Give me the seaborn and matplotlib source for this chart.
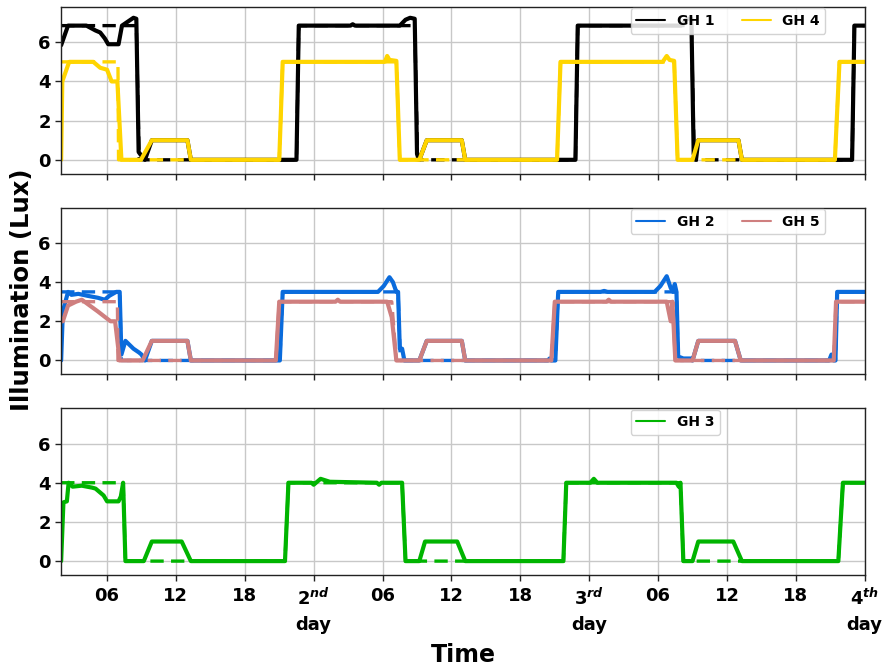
import matplotlib
matplotlib.use("Agg")
import matplotlib.pyplot as plt
from matplotlib.lines import Line2D
import seaborn as sns

# ---------------- data (hours since day-1 midnight) ----------------
gh1_t = [2.0, 2.6, 4.2, 5.0, 5.4, 5.8, 6.1, 7.0, 7.3, 8.3, 8.55, 8.75, 9.0, 9.3, 9.9, 13.0, 13.3,
         22.5, 22.7, 27.2, 27.4, 27.6, 31.5, 32.0, 32.4, 32.8, 33.0, 33.2, 33.85, 36.9, 37.2,
         46.8, 47.0, 56.0, 56.5, 56.9, 57.1, 57.3, 57.5, 61.0, 61.3,
         70.9, 71.1, 72.0]
gh1_v = [5.85, 6.85, 6.85, 6.6, 6.5, 6.2, 5.9, 5.9, 6.85, 7.25, 7.2, 0.4, 0.2, 0.0, 1.0, 1.0, 0.0,
         0.0, 6.85, 6.85, 6.92, 6.85, 6.85, 7.15, 7.25, 7.2, 0.3, 0.0, 1.0, 1.0, 0.0,
         0.0, 6.85, 6.85, 7.2, 7.2, 0.3, 0.0, 1.0, 1.0, 0.0,
         0.0, 6.85, 6.85]
ref1_t = [2.0, 8.55, 8.8, 22.5, 22.7, 32.8, 33.05, 46.8, 47.0, 56.9, 57.15, 70.9, 71.1, 72.0]
ref1_v = [6.85, 6.85, 0.0, 0.0, 6.85, 6.85, 0.0, 0.0, 6.85, 6.85, 0.0, 0.0, 6.85, 6.85]

gh4_t = [2.0, 2.1, 2.7, 4.8, 5.4, 6.0, 6.4, 6.9, 7.25, 8.95, 9.9, 13.0, 13.3,
         21.0, 21.3, 30.2, 30.4, 30.6, 31.2, 31.5, 33.2, 33.85, 36.9, 37.2,
         45.2, 45.5, 54.4, 54.75, 55.0, 55.4, 55.7, 57.0, 57.5, 61.0, 61.3,
         69.4, 69.8, 72.0]
gh4_v = [0.0, 4.0, 5.0, 5.0, 4.7, 4.6, 4.0, 4.0, 0.0, 0.0, 1.0, 1.0, 0.0,
         0.0, 5.0, 5.0, 5.3, 5.1, 5.05, 0.0, 0.0, 1.0, 1.0, 0.0,
         0.0, 5.0, 5.0, 5.3, 5.1, 5.05, 0.0, 0.0, 1.0, 1.0, 0.0,
         0.0, 5.0, 5.0]
ref4_t = [2.0, 6.95, 7.0, 21.0, 21.3, 31.2, 31.5, 45.2, 45.5, 55.4, 55.7, 69.4, 69.8, 72.0]
ref4_v = [5.0, 5.0, 0.0, 0.0, 5.0, 5.0, 0.0, 0.0, 5.0, 5.0, 0.0, 0.0, 5.0, 5.0]

gh2_t = [2.0, 2.15, 2.6, 2.9, 3.5, 4.3, 5.2, 5.8, 6.2, 6.8, 7.1, 7.25, 7.6, 8.3, 8.8, 9.0, 9.3,
         9.9, 13.0, 13.3, 21.05, 21.3, 29.6, 30.1, 30.6, 30.9, 31.2, 31.35, 31.5, 31.7, 31.9,
         33.2, 33.85, 36.9, 37.2, 44.4, 44.55, 44.7, 45.05, 45.3, 49.0, 49.3, 49.6,
         53.7, 54.2, 54.75, 55.1, 55.3, 55.45, 55.6, 55.75, 56.2, 56.9, 57.0, 57.5, 60.7, 61.2,
         68.9, 69.1, 69.3, 69.45, 69.6, 72.0]
gh2_v = [0.0, 2.5, 3.5, 3.35, 3.4, 3.3, 3.2, 3.1, 3.3, 3.5, 3.5, 0.3, 1.0, 0.6, 0.4, 0.3, 0.0,
         1.0, 1.0, 0.0, 0.0, 3.5, 3.5, 3.8, 4.25, 4.0, 3.5, 3.5, 0.6, 0.6, 0.0,
         0.0, 1.0, 1.0, 0.0, 0.0, 0.1, 0.0, 0.0, 3.5, 3.5, 3.55, 3.5,
         3.5, 3.8, 4.3, 3.7, 3.5, 3.9, 3.5, 0.2, 0.1, 0.1, 0.0, 1.0, 1.0, 0.0,
         0.0, 0.3, 0.0, 0.0, 3.5, 3.5]
ref2_t = [2.0, 7.1, 7.25, 21.05, 21.3, 31.35, 31.55, 45.05, 45.3, 55.6, 55.75, 69.45, 69.6, 72.0]
ref2_v = [3.5, 3.5, 0.0, 0.0, 3.5, 3.5, 0.0, 0.0, 3.5, 3.5, 0.0, 0.0, 3.5, 3.5]

gh5_t = [2.0, 2.15, 2.6, 3.3, 3.8, 4.5, 5.2, 6.3, 6.7, 7.1, 9.1, 9.9, 13.0, 13.3,
         20.7, 21.0, 25.9, 26.1, 26.3, 30.4, 30.8, 31.2, 33.2, 33.85, 36.9, 37.2,
         44.7, 45.0, 49.5, 49.7, 49.9, 54.75, 55.1, 55.25, 55.5, 57.0, 57.5, 60.7, 61.2,
         69.3, 69.5, 72.0]
gh5_v = [2.0, 2.0, 2.8, 3.0, 3.1, 2.8, 2.5, 2.0, 2.0, 0.0, 0.0, 1.0, 1.0, 0.0,
         0.0, 3.0, 3.0, 3.1, 3.0, 3.0, 2.2, 0.0, 0.0, 1.0, 1.0, 0.0,
         0.0, 3.0, 3.0, 3.1, 3.0, 3.0, 2.0, 3.0, 0.0, 0.0, 1.0, 1.0, 0.0,
         0.0, 3.0, 3.0]
ref5_t = [2.0, 6.9, 6.95, 20.7, 21.0, 30.8, 31.2, 44.7, 45.0, 55.25, 55.5, 69.3, 69.5, 72.0]
ref5_v = [3.0, 3.0, 0.0, 0.0, 3.0, 3.0, 0.0, 0.0, 3.0, 3.0, 0.0, 0.0, 3.0, 3.0]

gh3_t = [2.0, 2.2, 2.5, 2.65, 3.0, 3.8, 4.7, 5.0, 5.5, 5.7, 6.0, 7.0, 7.2, 7.4, 7.6,
         9.2, 9.9, 12.5, 13.3, 21.5, 21.8, 23.8, 24.0, 24.6, 25.4, 29.5, 29.7, 29.9,
         31.7, 32.0, 33.2, 33.7, 36.5, 37.2, 45.75, 46.0, 48.1, 48.4, 48.7,
         55.6, 55.8, 55.95, 56.2, 57.0, 57.5, 60.55, 61.3, 69.7, 70.1, 72.0]
gh3_v = [0.0, 3.0, 3.05, 4.0, 3.8, 3.85, 3.75, 3.7, 3.45, 3.35, 3.05, 3.05, 3.3, 4.0, 0.0,
         0.0, 1.0, 1.0, 0.0, 0.0, 4.0, 4.0, 3.9, 4.2, 4.05, 4.0, 3.9, 4.0,
         4.0, 0.0, 0.0, 1.0, 1.0, 0.0, 0.0, 4.0, 4.0, 4.2, 4.0,
         4.0, 3.8, 4.0, 0.0, 0.0, 1.0, 1.0, 0.0, 0.0, 4.0, 4.0]
ref3_t = [2.0, 7.4, 7.6, 21.5, 21.8, 31.7, 32.0, 45.75, 46.0, 55.95, 56.2, 69.7, 70.1, 72.0]
ref3_v = [4.0, 4.0, 0.0, 0.0, 4.0, 4.0, 0.0, 0.0, 4.0, 4.0, 0.0, 0.0, 4.0, 4.0]

tick_pos = [6, 12, 18, 24, 30, 36, 42, 48, 54, 60, 66, 72]
tick_lab = ["06", "12", "18", "2$^{nd}$\nday", "06", "12", "18", "3$^{rd}$\nday",
            "06", "12", "18", "4$^{th}$\nday"]
y_ticks = [0, 2, 4, 6]

colors = {"GH 1": "#000000", "GH 4": "#FFD500", "GH 2": "#0A6BDC",
          "GH 5": "#CF7F7F", "GH 3": "#00B400"}

panels = [
    [("GH 1", gh1_t, gh1_v, ref1_t, ref1_v), ("GH 4", gh4_t, gh4_v, ref4_t, ref4_v)],
    [("GH 2", gh2_t, gh2_v, ref2_t, ref2_v), ("GH 5", gh5_t, gh5_v, ref5_t, ref5_v)],
    [("GH 3", gh3_t, gh3_v, ref3_t, ref3_v)],
]

# ---------------- style ----------------
sns.set_theme(style="ticks")
plt.rcParams["font.family"] = ["DejaVu Sans"]
plt.rcParams["font.weight"] = "bold"
plt.rcParams["text.color"] = "black"
plt.rcParams["xtick.color"] = "black"
plt.rcParams["ytick.color"] = "black"
plt.rcParams["mathtext.fontset"] = "custom"
plt.rcParams["mathtext.it"] = "DejaVu Sans:italic:bold"
plt.rcParams["mathtext.rm"] = "DejaVu Sans:bold"
plt.rcParams["mathtext.bf"] = "DejaVu Sans:bold"

fig, axes = plt.subplots(3, 1, figsize=(8.86, 6.68), dpi=100, sharex=True)
fig.subplots_adjust(left=0.069, right=0.976, top=0.9895, bottom=0.1395, hspace=0.205)

for ax, series in zip(axes, panels):
    handles = []
    for name, t, v, rt, rv in series:
        c = colors[name]
        sns.lineplot(x=rt, y=rv, ax=ax, color=c, lw=2.4, linestyle=(0, (4, 2.2)),
                     estimator=None, sort=False)
        sns.lineplot(x=t, y=v, ax=ax, color=c, lw=3.0, estimator=None, sort=False)
        handles.append(Line2D([], [], color=c, lw=1.5, label=name))
    ax.set_xlim(2, 72)
    ax.set_ylim(-0.7, 7.8)
    ax.set_yticks(y_ticks)
    ax.set_xticks(tick_pos)
    ax.grid(True, color="#c8c8c8", lw=1.0)
    ax.set_axisbelow(True)
    for s in ax.spines.values():
        s.set_color("#222222")
        s.set_linewidth(1.0)
    ax.tick_params(axis="both", labelsize=13, length=4, width=1, color="#222222",
                   labelcolor="black")
    ax.tick_params(axis="x", pad=5)
    for lab in ax.get_yticklabels():
        lab.set_fontweight("bold")
    ax.set_xlabel("")
    ax.set_ylabel("")
    leg = ax.legend(handles=handles, loc="upper left", bbox_to_anchor=(0.707, 1.0), ncol=2,
                    prop={"weight": "bold", "size": 10}, borderaxespad=0.1,
                    columnspacing=2.0, handlelength=2.1, framealpha=0.85, edgecolor="#cccccc")
    for txt in leg.get_texts():
        txt.set_color("black")

axes[2].set_xticklabels(tick_lab, fontsize=13, fontweight="bold")
for lab in axes[2].get_xticklabels():
    lab.set_fontweight("bold")
    lab.set_linespacing(1.5)

fig.text(0.025, 0.566, "Illumination (Lux)", rotation=90, ha="center", va="center",
         fontsize=17.5, fontweight="bold")
fig.text(0.5225, 0.0195, "Time", ha="center", va="center", fontsize=17, fontweight="bold")

fig.savefig("out.png", dpi=100)
